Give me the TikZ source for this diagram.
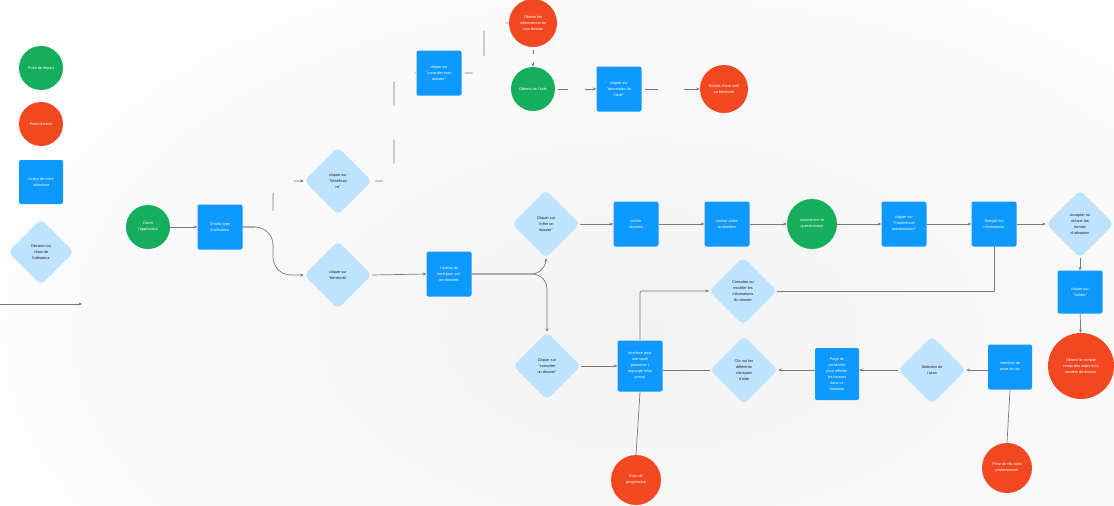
\documentclass[tikz,border=0pt]{standalone}
\usepackage{fontspec}
\setmainfont{Liberation Sans}
\usetikzlibrary{shapes.geometric,arrows.meta,calc}
\definecolor{fgreen}{HTML}{14AE5C}
\definecolor{fred}{HTML}{F24822}
\definecolor{fblue}{HTML}{0D99FF}
\definecolor{flight}{HTML}{BDE3FF}
\definecolor{fink}{HTML}{1E1E1E}
\definecolor{fline}{HTML}{7A7A7A}
\begin{document}
\begin{tikzpicture}[x=1pt,y=-1pt,
  font=\fontsize{3.8}{6}\selectfont,
  startnode/.style={circle,fill=fgreen,text=white,inner sep=0pt,align=center,minimum size=44pt},
  endnode/.style={circle,fill=fred,text=white,inner sep=0pt,align=center,minimum size=48pt},
  actbox/.style={rectangle,rounded corners=2pt,fill=fblue,text=white,inner sep=0pt,align=center,minimum width=45pt,minimum height=45pt},
  choice/.style={diamond,aspect=1,rounded corners=5pt,fill=flight,text=fink,inner sep=0pt,align=center,minimum width=68pt,minimum height=68pt},
  link/.style={draw=fline,line width=0.7pt},
  flow/.style={link,-{Stealth[length=3.5pt,width=3pt]}},
]
\useasboundingbox (0,0) rectangle (1114,506);

% soft grey haze behind the main flow
\begin{scope}
  \clip (0,0) rectangle (1114,506);
  \shade[inner color=black!5,outer color=white] (-150,-130) rectangle (1450,790);
\end{scope}

% legend
\node[startnode] (lgS) at (41,68) {Point de départ};
\node[endnode,minimum size=44pt] (lgE) at (41,124) {Point d'arrivé};
\node[actbox,minimum size=44pt] (lgA) at (41,182) {Action de votre\\utilisateur};
\node[choice,minimum width=66pt,minimum height=66pt] (lgD) at (41,252) {Décision ou\\choix de\\l'utilisateur};
\coordinate (lgL1) at (0,304);
\coordinate (lgL2) at (82,304);
\draw[flow] (lgL1) -- (lgL2);

% entry
\node[startnode] (open) at (148,227) {Ouvrir\\l'application};
\node[actbox] (type) at (220,227) {Choisir type\\d'utilisateur};
\node[choice] (benef) at (338,181) {cliquer sur\\"bénéficiai\\re"};
\node[choice] (benev) at (338,275) {cliquer sur\\"bénévole"};

% beneficiary branch
\node[actbox] (mydoss) at (439,73) {cliquer sur\\"consulter mon\\dossier"};
\node[endnode] (infos) at (533,23) {Obtenir les\\informations de\\mon dossier};
\node[startnode] (aide) at (533,89) {Obtenir de l'aide};
\node[actbox] (demande) at (619,89) {cliquer sur\\"demandes de\\l'aide"};
\node[endnode] (notif) at (724,89) {Envoie d'une notif\\au bénévole};

% volunteer branch
\node[actbox] (board) at (449,274) {Tableau de\\bord pour voir\\les dossiers};
\node[choice] (create) at (546,224) {Cliquer sur\\"créer un\\dossier"};
\node[actbox] (situ) at (636,224) {cocher\\situation};
\node[actbox] (aides) at (727,224) {cocher aides\\souhaitées};
\node[startnode,minimum size=50pt] (quest) at (812,224) {commencer le\\questionnaire};
\node[actbox] (cquest) at (904,224) {cliquer sur\\"Commencer\\questionnaire"};
\node[actbox] (fill) at (994,224) {Remplir les\\informations};
\node[choice] (terms) at (1080,224) {Accepter ou\\refuser les\\termes\\d'utilisation};
\node[actbox,minimum height=43pt] (valid) at (1080,292) {cliquer sur\\"Valider"};
\node[endnode,minimum size=66pt] (recap) at (1081,366) {Obtenir le compte\\rendu des aides et le\\numéro de dossier};

\node[choice] (edit) at (743,291) {Consulter ou\\modifier les\\informations\\du dossier};
\node[choice] (consult) at (547,366) {Cliquer sur\\"consulter\\un dossier"};
\node[actbox,minimum height=51pt] (person) at (640,366) {Interface pour\\une seule\\personne (\\regroupe infos\\perso)};
\node[choice] (rubric) at (744,370) {Clic sur les\\différents\\rubriques\\d'aide};
\node[actbox,minimum width=44pt,minimum height=52pt] (search) at (837,374) {Page de\\recherche\\pour afficher\\les acteurs\\dans ce\\domaine};
\node[choice] (asso) at (932,370) {Selection de\\l'asso};
\node[actbox,minimum width=44pt] (rdv) at (1010,367) {Interface de\\prise de rdv};
\node[endnode,minimum size=50pt] (suivi) at (636,480) {Suivi de\\progression};
\node[endnode,minimum size=50pt] (pro) at (1007,468) {Prise de rdv avec\\professionnel};

% connectors: entry
\draw[flow] (open) -- (type);
\draw[flow,rounded corners=15pt,dash pattern=on 12pt off 28pt on 18pt off 26pt on 40pt]
  (type.east) -- (273,227) -- (273,181) -- (benef.west);
\draw[flow,rounded corners=18pt] (type.east) -- (273,227) -- (273,275) -- (benev.west);

% connectors: beneficiary branch
\draw[link,rounded corners=10pt,dash pattern=on 0pt off 3pt on 8pt off 24pt on 24pt off 34pt on 24pt off 25pt on 8pt off 20pt]
  (benef.east) -- (394,181) -- (394,73) -- (mydoss.west);
\draw[link,rounded corners=8pt,dash pattern=on 0pt off 3pt on 8pt off 25pt on 25pt off 26pt on 9pt off 20pt]
  (mydoss.east) -- (484,73) -- (484,23) -- (infos.west);
\draw[flow,dash pattern=on 0pt off 3pt on 4pt off 8pt on 20pt] (infos.south) -- (aide.north);
\draw[flow,dash pattern=on 0pt off 3pt on 10pt off 17pt on 20pt] (aide.east) -- (demande.west);
\draw[flow,dash pattern=on 0pt off 3pt on 13pt off 26pt on 30pt] (demande.east) -- (notif.west);

% connectors: volunteer branch
\draw[flow] (benev.east) -- (board.west);
\draw[flow,rounded corners=15pt] (board.east) -| (create.south);
\draw[flow,rounded corners=15pt] (board.east) -| (consult.north);
\draw[flow] (create) -- (situ);
\draw[flow] (situ) -- (aides);
\draw[flow] (aides) -- (quest);
\draw[flow] (quest) -- (cquest);
\draw[flow] (cquest) -- (fill);
\draw[flow] (fill) -- (terms);
\draw[flow] (terms) -- (valid);
\draw[flow] (valid) -- (recap);
\draw[link] (fill.south) |- (edit.east);
\draw[flow,rounded corners=2pt] (person.north) |- (edit.west);
\draw[flow] (consult) -- (person);
\draw[link] (rubric.west -| person.east) -- (rubric.west);
\draw[flow] (rubric.east -| search.west) -- (rubric.east);
\draw[flow] (asso.west) -- (asso.west -| search.east);
\draw[flow] (asso.east -| rdv.west) -- (asso.east);
\draw[link] (person.south) -- (suivi.north);
\draw[link] (rdv.south) -- (pro.north);
\end{tikzpicture}
\end{document}
